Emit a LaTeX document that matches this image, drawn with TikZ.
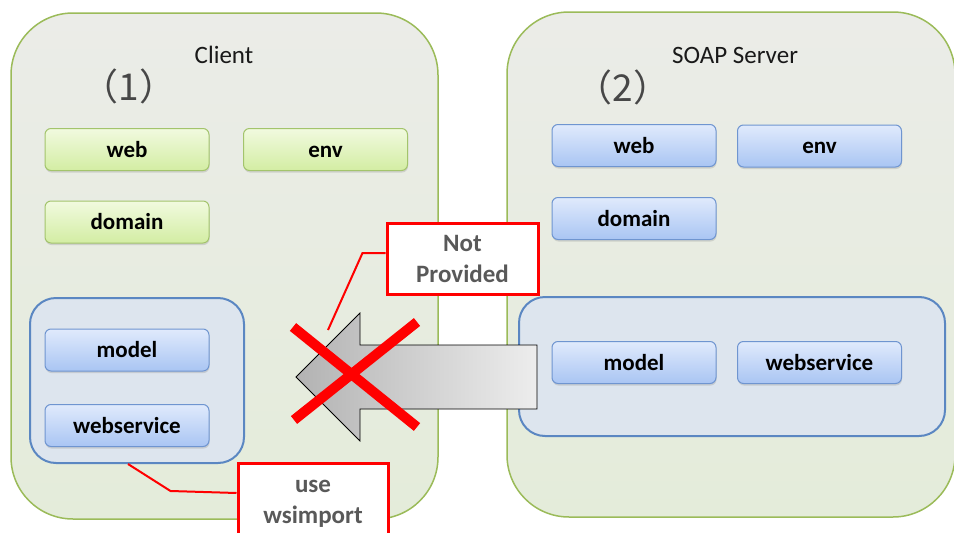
\documentclass[tikz,border=0pt]{standalone}
\usepackage{fontspec}
\setmainfont{Carlito}
\newfontfamily\cjk{Noto Sans CJK JP}
\usetikzlibrary{shadows}

\definecolor{frame}{HTML}{9BBB59}
\definecolor{boxtop}{HTML}{EBECE8}
\definecolor{boxbot}{HTML}{E4ECDA}
\definecolor{pkgline}{HTML}{5B87C2}
\definecolor{pkgfill}{HTML}{DDE5EE}
\definecolor{gtop}{HTML}{F1FADF}
\definecolor{gbot}{HTML}{D3EDA3}
\definecolor{gline}{HTML}{A3C46C}
\definecolor{btop}{HTML}{E0EAFC}
\definecolor{bbot}{HTML}{A9C5F3}
\definecolor{bline}{HTML}{6F95D0}
\definecolor{notegray}{HTML}{595959}

\begin{document}
\begin{tikzpicture}[x=1pt, y=-1pt,
	bigbox/.style={draw=frame, line width=1.5pt, rounded corners=62pt, top color=boxtop, bottom color=boxbot},
	pkgbox/.style={draw=pkgline, line width=2pt, fill=pkgfill, rounded corners=26pt},
	modbox/.style={rounded corners=6pt, line width=1pt, minimum width=164pt, minimum height=42pt,
		text height=20pt, text depth=5pt, inner ysep=0pt,
		font=\bfseries\fontsize{23}{27}\selectfont,
		drop shadow={shadow xshift=0.5pt, shadow yshift=-2pt, opacity=0.25}},
	greenmod/.style={modbox, draw=gline, top color=gtop, bottom color=gbot},
	bluemod/.style={modbox, draw=bline, top color=btop, bottom color=bbot},
	title/.style={font=\fontsize{25}{29}\selectfont, text=black!90},
	numlbl/.style={font=\cjk\fontsize{37}{40}\selectfont, text=black!72},
	note/.style={draw=red, line width=3pt, fill=white, text=notegray, align=center,
		font=\bfseries\fontsize{25}{31}\selectfont},
	callout/.style={red, line width=2pt},
	cross/.style={red, line width=10pt}]
	\fill[white] (0,0) rectangle (954,533);
	\useasboundingbox (0,0) rectangle (954,533);
	% Containers:
	\node[bigbox, minimum width=427pt, minimum height=506pt] (client) at (224.5, 266){};
	\node[bigbox, minimum width=448pt, minimum height=505pt] (server) at (731, 264.5){};
	\node[title] (clienttitle) at (224, 55){Client};
	\node[title] (servertitle) at (735, 55){SOAP Server};
	\node[numlbl] (clientnum) at (129, 86){（1）};
	\node[numlbl] (servernum) at (623, 87){（2）};
	% Client modules:
	\node[greenmod] (cweb) at (127, 149.5){web};
	\node[greenmod] (cenv) at (325.5, 149.5){env};
	\node[greenmod] (cdomain) at (127, 222){domain};
	\node[pkgbox, minimum width=214pt, minimum height=165pt] (cpkg) at (137, 380.5){};
	\node[bluemod] (cmodel) at (127, 350){model};
	\node[bluemod] (cws) at (127, 425.5){webservice};
	% Server modules:
	\node[bluemod] (sweb) at (634, 145.5){web};
	\node[bluemod] (senv) at (819.5, 146){env};
	\node[bluemod] (sdomain) at (634, 218.5){domain};
	\node[pkgbox, minimum width=426pt, minimum height=139pt] (spkg) at (732, 366.5){};
	\node[bluemod] (smodel) at (634, 362.5){model};
	\node[bluemod] (sws) at (819.5, 362.5){webservice};
	% Blocked arrow:
	\draw[line width=0.8pt, left color=black!30, right color=black!7] (296, 377) -- (360, 313) -- (360, 345) -- (537, 345) -- (537, 409) -- (360, 409) -- (360, 441) -- cycle;
	\draw[cross] (293, 327) -- (417, 427);
	\draw[cross] (417, 322) -- (294, 420);
	% Notes:
	\node[note, minimum width=151pt, minimum height=71pt] (notprov) at (462.5, 258.5){Not\\Provided};
	\node[note, minimum width=150pt, minimum height=82pt] (wsimp) at (313, 504){use\\wsimport};
	\coordinate (crosstip) at (328, 330);
	\coordinate (pkgtip) at (128, 464);
	\draw[callout] ([yshift=11pt]wsimp.west) -- ++(-66, -2) -- (pkgtip);
	\draw[callout] ([yshift=5.5pt]notprov.west) -- ++(-23, 0) -- (crosstip);
\end{tikzpicture}
\end{document}
